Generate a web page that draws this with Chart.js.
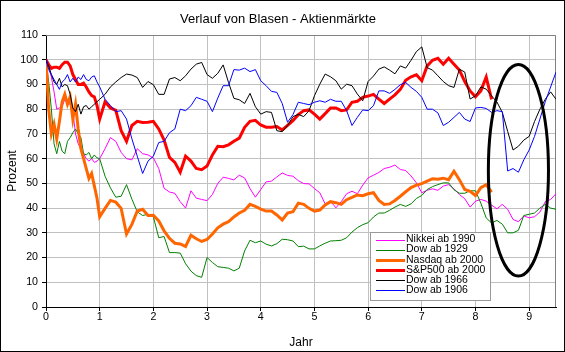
<!DOCTYPE html>
<html><head><meta charset="utf-8">
<script src="https://cdn.jsdelivr.net/npm/chart.js@4.4.1/dist/chart.umd.min.js"></script>
<style>html,body{margin:0;padding:0;background:#fff;}canvas{display:block;}</style>
</head><body>
<canvas id="c" width="565" height="352"></canvas>
<script>
const TITLE = 'Verlauf von Blasen - Aktienmärkte';
const X_TITLE = 'Jahr';
const Y_TITLE = 'Prozent';
const SERIES_LABELS = ['Nikkei ab 1990','Dow ab 1929','Nasdaq ab 2000','S&P500 ab 2000','Dow ab 1966','Dow ab 1906'];

const YEARS = [0,0.05,0.1,0.15,0.2,0.25,0.3,0.35,0.4,0.45,0.5,0.55,0.6,0.65,0.7,0.75,0.8,0.85,0.9,0.95,
 1.0,1.1,1.2,1.3,1.4,1.5,1.6,1.7,1.8,1.9,
 2.0,2.1,2.2,2.3,2.4,2.5,2.6,2.7,2.8,2.9,
 3.0,3.1,3.2,3.3,3.4,3.5,3.6,3.7,3.8,3.9,
 4.0,4.1,4.2,4.3,4.4,4.5,4.6,4.7,4.8,4.9,
 5.0,5.1,5.2,5.3,5.4,5.5,5.6,5.7,5.8,5.9,
 6.0,6.1,6.2,6.3,6.4,6.5,6.6,6.7,6.8,6.9,
 7.0,7.1,7.2,7.3,7.4,7.5,7.6,7.7,7.8,7.9,
 8.0,8.1,8.2,8.3,8.4,8.5,8.6,8.7,8.8,8.9,
 9.0,9.1,9.2,9.3,9.4,9.5];

const NIKKEI_1990 = [100,97,93,87,80,80.5,81,84,82.5,82,79,70,66,64,62,60,59,60,58.5,59,
 60,64,68.5,67,62.5,60,59.5,64,62,61.5,
 60.3,56,48,46.5,46,42.6,40,47,44,43.5,
 43,45.5,50,52.5,52,51.4,53.3,52.2,47.9,44.4,
 47.5,50.6,50.9,52.6,54.2,53.2,52.9,51.1,49.9,49.8,
 47.9,46.2,41.7,42.8,40.1,42.6,45.8,46.8,45.8,49.3,
 52.2,53.3,54.4,56,56.5,57.4,55.6,55.2,53,50.2,
 46.2,47.2,47.8,47.2,48.9,49.5,47.8,45.5,43.8,40.4,
 42.8,43.5,42.8,41.2,39.7,41.5,39.5,35.4,34.5,36.8,
 36.1,36.5,38.4,42.6,43.5,45.8];

const DOW_1929 = [100,91,80,66,62,67,63,62,67,68.5,70.5,72,70,68.5,62,61.5,62.5,60,61.5,60.3,
 60,52.9,48.2,44.4,44.8,49.5,43.6,38.5,37,37.5,
 36.5,28,28.5,22,22,21.8,17.5,14.5,12.7,12,
 20,18,16.3,16,15.7,14.6,15.7,22.7,27,26,
 26.7,25.4,24.7,25.6,27.4,27.2,26.7,24.4,24.6,23.5,
 23.5,24.7,25.8,26.7,26.8,27,28,30.3,32.1,33.3,
 34.1,36.4,38,38,39.1,40.4,41.5,40.7,41.7,43.9,
 45.1,47.5,48.7,49.5,50.2,50.2,47.4,46,46,47,
 47,42,36,34,35,33.5,30,30,31,37,
 37.5,38,40,41.5,40,39.5];

const NASDAQ_2000 = [100,80,70,74,68,75,83,86,82,85,76,82,72,64,60,56,52,54,49,44,
 36.5,39.9,43.1,42.4,39.9,29.5,33.4,38.8,39.5,37,
 37.1,34.8,30.8,27.8,25.8,25.5,24.5,29,27.6,26.5,
 27.3,29.5,32,33.5,34.5,36.4,38,39.1,41.5,40.7,
 39.6,38.8,38.8,37.2,35.2,38,38.5,42,41.5,39.9,
 38.8,39.2,41.3,42.6,42.2,41.5,43.4,44.3,45.3,45,
 45.8,46.2,43.1,41.5,41.7,43.1,44.8,46.6,48.3,49.3,
 49.9,50.9,51.9,51.7,52.1,51.5,54.9,51.5,47.5,46.8,
 45.1,48.3,49.5,46.5,null,null,null,null,null,null,
 null,null,null,null,null,null];

const SP500_2000 = [100,98,96.5,97,97,96.5,98,99,99,97.5,94,92,90,90,90.5,89,87,85.5,85,81.5,
 76,83,80.5,79.5,71.3,67,73.4,75.1,74.6,74.7,
 75.1,72,67.5,60.5,58.5,54.5,61,59,56,55.5,
 57,61.5,65,64.8,65.6,67,68.3,72.7,75.1,75.5,
 73.6,72.7,72.7,73,71.6,73.5,75.4,77.8,79.4,79.7,
 78,76,78.2,80.5,80.5,79.4,79.7,82.8,83.2,84.8,
 85.3,86,84.1,82.3,84.1,85.8,88,91.7,93.1,93.9,
 91.5,97.5,99.8,100.6,98.2,100.6,98.2,95.8,91.2,87.4,
 85,87.4,93,84,null,null,null,null,null,null,
 null,null,null,null,null,null];

const DOW_1966 = [100,97.5,94,91,90,92.5,89,90,89.5,86,80.5,79,82,78,81,81.5,80,81,82,83,
 84,86,89,91,92.8,94.2,93.8,92.8,88.8,91.2,
 89.9,86,86,92.2,92.8,91.5,93.5,96.2,98.2,98.9,
 94,92.5,94.5,97.9,90.8,84.4,83.8,82.3,86.4,81,
 78,79,78.7,71.3,70.9,73.4,77,77.9,77,79.4,
 85.4,90.1,94.2,93.1,91.5,88.1,90.1,89.5,86.1,83.4,
 91.2,93.4,96.2,97.1,95.8,94.3,97.5,96.6,99.8,103.3,
 105.2,96.8,95.8,93.5,91.2,89.5,88.8,96.2,95,84.1,
 85.4,89,88.1,85.4,82.9,78.7,71,63.5,65,67.5,
 69,75,80,84,87,84];

const DOW_1906 = [100,96,94,92,90,88,91,92,94,91,92.5,91,93,92,94,92,91.5,93,93.5,91,
 89,84,81.5,79,79.4,76,68,61,54,59,
 61,66.5,67,70.5,72,80,79.4,81.4,84.8,84,
 83.2,79,84.5,89.5,89.5,96,95.8,96.6,95.2,96,
 91.5,89.5,87.2,86.8,82.3,74.7,77.8,82.8,82.3,81.8,
 82.8,83.4,82.8,84,83.2,83.2,79.4,73.4,76.7,79.7,
 79.4,81.4,87.4,87.4,86.4,88,89.9,90.8,88.8,87.2,
 84.8,80,80,78.5,73.4,74.7,76.7,78.7,76,75,
 80.5,80.7,80.3,78.7,79.4,79,55,56,54.5,59.5,
 63.5,69,76,83,89,95];

const X_TICK_STEP = 1, X_MAX = 9.5;
const Y_TICK_STEP = 10, Y_MAX = 110;

// highlight ellipse, in data units (years / percent)
const ELLIPSE = {x: 8.8, y: 55.3, rx: 0.56, ry: 42.8};

const SERIES_VALUES = [NIKKEI_1990, DOW_1929, NASDAQ_2000, SP500_2000, DOW_1966, DOW_1906];
const STYLES = [
  {color:'#FF00FF', width:1},
  {color:'#008000', width:1},
  {color:'#FF6600', width:3},
  {color:'#FF0000', width:3},
  {color:'#000000', width:1},
  {color:'#0000FF', width:1}
];

function pts(vals){ return YEARS.map((x,i)=>({x:x, y:vals[i]})).filter(p=>p.y!==null); }

const FONT = "'Liberation Sans', Arial, sans-serif";
Chart.defaults.font.family = FONT;
Chart.defaults.color = '#000';

const datasets = SERIES_VALUES.map((v,i)=>({
  label: SERIES_LABELS[i],
  data: pts(v),
  borderColor: STYLES[i].color,
  backgroundColor: STYLES[i].color,
  borderWidth: STYLES[i].width,
  pointRadius: 0,
  tension: 0,
  fill: false,
  order: SERIES_VALUES.length - i
}));

const decor = {
  id: 'decor',
  beforeDatasetsDraw(chart){
    const {ctx, chartArea:a} = chart;
    ctx.save();
    ctx.strokeStyle = '#808080'; ctx.lineWidth = 1;
    ctx.beginPath();
    const t = Math.round(a.top)+0.5, r = Math.round(a.right)-0.5;
    ctx.moveTo(a.left, t); ctx.lineTo(r, t); ctx.lineTo(r, a.bottom);
    ctx.stroke();
    ctx.restore();
  },
  afterDatasetsDraw(chart){
    const {ctx} = chart;
    const xs = chart.scales.x, ys = chart.scales.y;
    const cx = xs.getPixelForValue(ELLIPSE.x), cy = ys.getPixelForValue(ELLIPSE.y);
    const rx = xs.getPixelForValue(ELLIPSE.x + ELLIPSE.rx) - cx;
    const ry = cy - ys.getPixelForValue(ELLIPSE.y + ELLIPSE.ry);
    ctx.save();
    ctx.strokeStyle = '#000'; ctx.lineWidth = 3;
    ctx.beginPath(); ctx.ellipse(cx, cy, rx, ry, 0, 0, Math.PI*2); ctx.stroke();
    ctx.restore();
    const L = 370.5, T = 232.5, W = 120, H = 68, rowH = 10.1;
    ctx.save();
    ctx.fillStyle = '#fff'; ctx.fillRect(L, T, W, H);
    ctx.strokeStyle = '#999'; ctx.lineWidth = 1; ctx.strokeRect(L, T, W, H);
    ctx.font = '10.5px ' + FONT; ctx.textBaseline = 'middle'; ctx.textAlign = 'left';
    chart.data.datasets.forEach((d,i)=>{
      const y = Math.round(T + 7 + i*rowH) + (d.borderWidth % 2 ? 0.5 : 0);
      ctx.strokeStyle = d.borderColor; ctx.lineWidth = d.borderWidth;
      ctx.beginPath(); ctx.moveTo(376, y); ctx.lineTo(405, y); ctx.stroke();
      ctx.fillStyle = '#000';
      ctx.fillText(d.label, 406, T + 7 + i*rowH);
    });
    ctx.restore();
  },
  afterDraw(chart){
    const {ctx} = chart;
    ctx.save(); ctx.strokeStyle = '#000'; ctx.lineWidth = 1;
    ctx.strokeRect(0.5, 0.5, chart.width-1, chart.height-1);
    ctx.restore();
  }
};

new Chart(document.getElementById('c'), {
  type: 'line',
  data: { datasets },
  plugins: [decor],
  options: {
    responsive: false, animation: false, devicePixelRatio: 1, events: [],
    layout: { padding: { left: 0, right: 9, top: 0, bottom: 0 } },
    plugins: {
      legend: { display: false },
      tooltip: { enabled: false },
      title: { display: true, text: TITLE, color: '#000',
        font: { family: FONT, size: 13, weight: 'normal' }, padding: { top: 12, bottom: 7.4 } }
    },
    scales: {
      x: {
        type: 'linear', min: 0, max: X_MAX,
        ticks: { stepSize: X_TICK_STEP, includeBounds: false, padding: 0, color: '#000', font: { size: 10.67 }, maxRotation: 0 },
        grid: { color: '#C0C0C0', tickColor: '#000', tickLength: 4, lineWidth: 1 },
        border: { color: '#000', width: 1 },
        title: { display: true, text: X_TITLE, color: '#000', font: { size: 12 }, padding: { top: 0, bottom: 2 } },
        afterFit(s){ s.height = 45; }
      },
      y: {
        type: 'linear', min: 0, max: Y_MAX,
        ticks: { stepSize: Y_TICK_STEP, padding: 4, color: '#000', font: { size: 10.67 } },
        grid: { color: '#C0C0C0', tickColor: '#000', tickLength: 4, lineWidth: 1 },
        border: { color: '#000', width: 1 },
        title: { display: true, text: Y_TITLE, color: '#000', font: { size: 12 }, padding: { top: 5, bottom: 0 } },
        afterFit(s){ s.width = 46; }
      }
    }
  }
});
</script>
</body></html>
